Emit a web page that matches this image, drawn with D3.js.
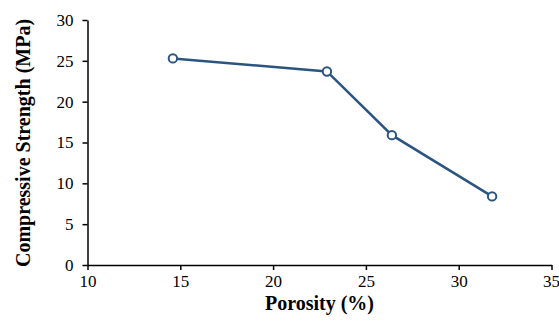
<!DOCTYPE html>
<html><head><meta charset="utf-8">
<script src="https://cdn.jsdelivr.net/npm/d3@7"></script>
<style>html,body{margin:0;padding:0;background:#fff;}svg{display:block;}
.ax text{font-family:'Liberation Serif','Times New Roman',serif !important;font-size:17px !important;fill:#000 !important;}
.ax path,.ax line{stroke:#000 !important;stroke-width:1.5px !important;}
</style>
</head><body>
<svg id="c" width="559" height="322"></svg>
<script>
const porosity = [14.6, 22.9, 26.4, 31.8];
const strength = [25.3, 23.7, 15.9, 8.4];
const xTicks = [10, 15, 20, 25, 30, 35];
const yTicks = [0, 5, 10, 15, 20, 25, 30];
const xTitle = "Porosity (%)";
const yTitle = "Compressive Strength (MPa)";

const svg = d3.select("#c");
const x = d3.scaleLinear().domain([10, 35]).range([87.5, 551.5]);
const y = d3.scaleLinear().domain([0, 30]).range([265, 20]);
const font = "'Liberation Serif','Times New Roman',serif";
const col = "#2b5580";

const gx = svg.append("g").attr("class", "ax").attr("transform", "translate(0,265)")
  .call(d3.axisBottom(x).tickValues(xTicks).tickSize(5).tickPadding(5).tickSizeOuter(0));
const gy = svg.append("g").attr("class", "ax").attr("transform", "translate(87.5,0)")
  .call(d3.axisLeft(y).tickValues(yTicks).tickSize(5).tickPadding(9).tickSizeOuter(0));
gx.attr("font-family", font).attr("font-size", 17);
gy.attr("font-family", font).attr("font-size", 17);
// keep the last x label inside the canvas
gx.selectAll(".tick text").filter(d => d === xTicks[xTicks.length - 1]).attr("text-anchor", "end").attr("dx", "8px");

const data = porosity.map((p, i) => ({p, s: strength[i]}));
svg.append("path").datum(data)
  .attr("fill", "none").attr("stroke", col).attr("stroke-width", 2.5)
  .attr("d", d3.line().x(d => x(d.p)).y(d => y(d.s)));
svg.selectAll("circle.pt").data(data).enter().append("circle")
  .attr("cx", d => x(d.p)).attr("cy", d => y(d.s)).attr("r", 4.2)
  .attr("fill", "#fff").attr("stroke", col).attr("stroke-width", 2);

svg.append("text").attr("x", 319.5).attr("y", 310).attr("text-anchor", "middle")
  .style("font-family", font).style("font-weight", "bold").style("font-size", "20px").text(xTitle);
svg.append("text").attr("transform", "translate(30,143) rotate(-90)").attr("text-anchor", "middle")
  .style("font-family", font).style("font-weight", "bold").style("font-size", "20px").text(yTitle);
</script>
</body></html>
